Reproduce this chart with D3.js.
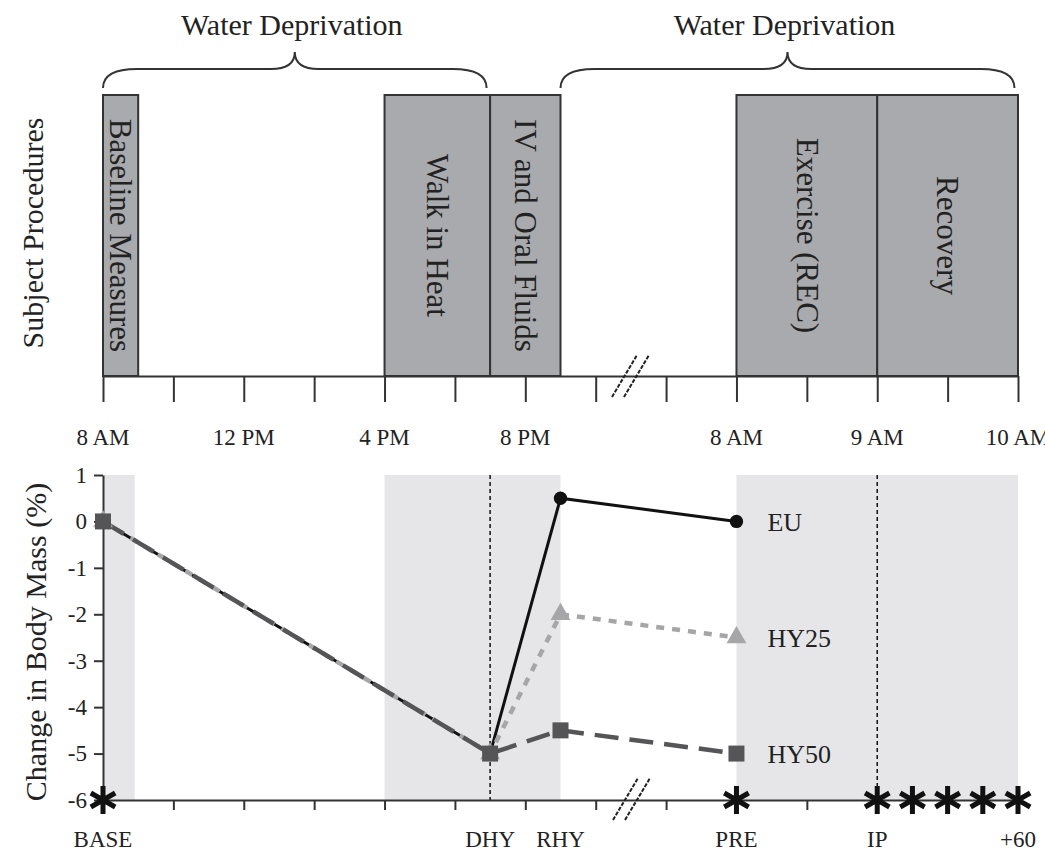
<!DOCTYPE html>
<html>
<head>
<meta charset="utf-8">
<script src="https://cdn.jsdelivr.net/npm/d3@7/dist/d3.min.js"></script>
<style>
  body { margin: 0; background: #fff; }
  svg { font-family: "Liberation Serif", "Times New Roman", serif; }
</style>
</head>
<body>
<svg id="chart" width="1045" height="854"></svg>
<script>
// time axis is in "tick units": 2 h per tick before the break, 30 min after it
var timeTicks = [0, 1, 2, 3, 4, 5, 6, 7, 8, 9, 10, 11, 12, 13];
var timeLabelPos = [0, 2, 4, 6, 9, 11, 13];
var timeLabels = ["8 AM", "12 PM", "4 PM", "8 PM", "8 AM", "9 AM", "10 AM"];

var procNames = ["Baseline Measures", "Walk in Heat", "IV and Oral Fluids", "Exercise (REC)", "Recovery"];
var procStart = [0, 4, 5.5, 9, 11];
var procEnd = [0.5, 5.5, 6.5, 11, 13];

var deprivStart = [0, 6.5];
var deprivEnd = [5.45, 12.95];

var bandStart = [0, 4, 9];
var bandEnd = [0.45, 6.5, 13];

var pointNames = ["BASE", "DHY", "RHY", "PRE", "IP", "+60"];
var pointPos = [0, 5.5, 6.5, 9, 11, 13];
var dashedAt = [5.5, 11];

var seriesPos = [0, 5.5, 6.5, 9];
var eu = [0, -5, 0.5, 0];
var hy25 = [0, -5, -2, -2.5];
var hy50 = [0, -5, -4.5, -5];

var yTicks = [1, 0, -1, -2, -3, -4, -5, -6];
var starPos = [0, 9, 11, 11.5, 12, 12.5, 13];

var svg = d3.select("#chart");
var ink = "#222";

var x = d3.scaleLinear().domain([0, 13]).range([103, 1018]);
var y = d3.scaleLinear().domain([-6, 1]).range([800, 475]);

var topAxisY = 376, boxTop = 95;

// ---------- top panel: procedures ----------
procNames.forEach(function(name, i) {
  svg.append("rect")
    .attr("x", x(procStart[i])).attr("y", boxTop)
    .attr("width", x(procEnd[i]) - x(procStart[i]))
    .attr("height", topAxisY - boxTop)
    .attr("fill", "#a9aaad").attr("stroke", "#333").attr("stroke-width", 2);
  var cx = (x(procStart[i]) + x(procEnd[i])) / 2, cy = (boxTop + topAxisY) / 2;
  svg.append("text")
    .attr("transform", "translate(" + cx + "," + cy + ") rotate(90)")
    .attr("text-anchor", "middle").attr("dy", "0.33em")
    .attr("font-size", 31).attr("fill", ink)
    .text(name);
});

svg.append("g")
  .attr("transform", "translate(0," + topAxisY + ")")
  .call(d3.axisBottom(x).tickValues(timeTicks).tickSize(26).tickSizeOuter(0).tickFormat(""))
  .call(g => g.selectAll("path, line").attr("stroke", "#333").attr("stroke-width", 2));

// the last label runs off the right edge, as in the original figure
svg.selectAll(".tlabel").data(timeLabelPos).enter().append("text")
  .attr("x", d => x(d)).attr("y", 445)
  .attr("text-anchor", "middle").attr("font-size", 23).attr("fill", ink)
  .text((d, i) => timeLabels[i]);

svg.append("text")
  .attr("transform", "translate(33,233) rotate(-90)")
  .attr("text-anchor", "middle").attr("dy", "0.33em")
  .attr("font-size", 30).attr("fill", ink)
  .text("Subject Procedures");

// braces
function brace(x0, x1) {
  var xm = (x0 + x1) / 2;
  return "M" + x0 + ",88 Q" + x0 + ",69 " + (x0 + 34) + ",69 L" + (xm - 24) + ",69 Q" +
    xm + ",69 " + xm + ",52 Q" + xm + ",69 " + (xm + 24) + ",69 L" + (x1 - 34) + ",69 Q" +
    x1 + ",69 " + x1 + ",88";
}
deprivStart.forEach(function(s, i) {
  var x0 = x(s), x1 = x(deprivEnd[i]);
  svg.append("path").attr("d", brace(x0, x1))
    .attr("fill", "none").attr("stroke", "#333").attr("stroke-width", 2);
  svg.append("text")
    .attr("x", (x0 + x1) / 2 - 3).attr("y", 35)
    .attr("text-anchor", "middle").attr("font-size", 30).attr("fill", ink)
    .text("Water Deprivation");
});

// break marks
function breakMarks(yb, yt, xs) {
  [0, 12].forEach(function(off) {
    svg.append("line")
      .attr("x1", xs + off).attr("y1", yb).attr("x2", xs + off + 25).attr("y2", yt)
      .attr("stroke", "#222").attr("stroke-width", 2).attr("stroke-dasharray", "4,1.5");
  });
}
breakMarks(397, 355, 612);

// ---------- bottom panel: body mass ----------
bandStart.forEach(function(s, i) {
  svg.append("rect")
    .attr("x", x(s)).attr("y", y(1))
    .attr("width", x(bandEnd[i]) - x(s)).attr("height", y(-6) - y(1))
    .attr("fill", "#e6e6e8");
});

dashedAt.forEach(function(t) {
  svg.append("line")
    .attr("x1", x(t)).attr("x2", x(t)).attr("y1", y(1)).attr("y2", y(-6))
    .attr("stroke", "#111").attr("stroke-width", 1.5).attr("stroke-dasharray", "4,3");
});

svg.append("g")
  .attr("transform", "translate(" + x(0) + ",0)")
  .call(d3.axisLeft(y).tickValues(yTicks).tickSize(9).tickSizeOuter(0).tickPadding(7)
    .tickFormat(d => String(d)))
  .call(g => g.selectAll("path, line").attr("stroke", "#333").attr("stroke-width", 2))
  .call(g => g.selectAll("text").attr("font-size", 23).attr("fill", ink)
    .attr("font-family", "Liberation Serif, serif"));

svg.append("g")
  .attr("transform", "translate(0," + y(-6) + ")")
  .call(d3.axisBottom(x).tickValues(timeTicks).tickSize(10).tickSizeOuter(0).tickFormat(""))
  .call(g => g.selectAll("path, line").attr("stroke", "#333").attr("stroke-width", 2));

breakMarks(820, 778, 613);

svg.append("text")
  .attr("transform", "translate(36,642) rotate(-90)")
  .attr("text-anchor", "middle").attr("dy", "0.33em")
  .attr("font-size", 30).attr("fill", ink)
  .text("Change in Body Mass (%)");

svg.selectAll(".plabel").data(pointPos).enter().append("text")
  .attr("x", d => x(d)).attr("y", 847)
  .attr("text-anchor", "middle").attr("font-size", 23).attr("fill", ink)
  .text((d, i) => pointNames[i]);

var line = d3.line().x(d => x(d[0])).y(d => y(d[1]));
var series = [
  { name: "EU", vals: eu, color: "#111", width: 3, dash: null, shape: d3.symbolCircle, size: 140 },
  { name: "HY25", vals: hy25, color: "#a6a6a8", width: 4.5, dash: "8,8", shape: d3.symbolTriangle, size: 170 },
  { name: "HY50", vals: hy50, color: "#555557", width: 4.5, dash: "24,11", shape: d3.symbolSquare, size: 256 }
];

series.forEach(function(s) {
  var pts = seriesPos.map((t, i) => [t, s.vals[i]]);
  svg.append("path").attr("d", line(pts))
    .attr("fill", "none").attr("stroke", s.color).attr("stroke-width", s.width)
    .attr("stroke-dasharray", s.dash);
});
series.forEach(function(s) {
  var pts = seriesPos.map((t, i) => [t, s.vals[i]]);
  svg.selectAll(null).data(pts).enter().append("path")
    .attr("transform", d => "translate(" + x(d[0]) + "," + y(d[1]) + ")")
    .attr("d", d3.symbol(s.shape, s.size))
    .attr("fill", s.color);
  var last = pts[pts.length - 1];
  svg.append("text")
    .attr("x", x(last[0]) + 31).attr("y", y(last[1]))
    .attr("dy", "0.35em").attr("font-size", 26).attr("fill", ink)
    .text(s.name);
});

// significance asterisks on the time axis
svg.selectAll(".star").data(starPos).enter().append("path")
  .attr("transform", d => "translate(" + x(d) + "," + y(-6) + ")")
  .attr("d", d3.symbol(d3.symbolAsterisk, 560))
  .attr("fill", "none").attr("stroke", "#111").attr("stroke-width", 5);
</script>
</body>
</html>
